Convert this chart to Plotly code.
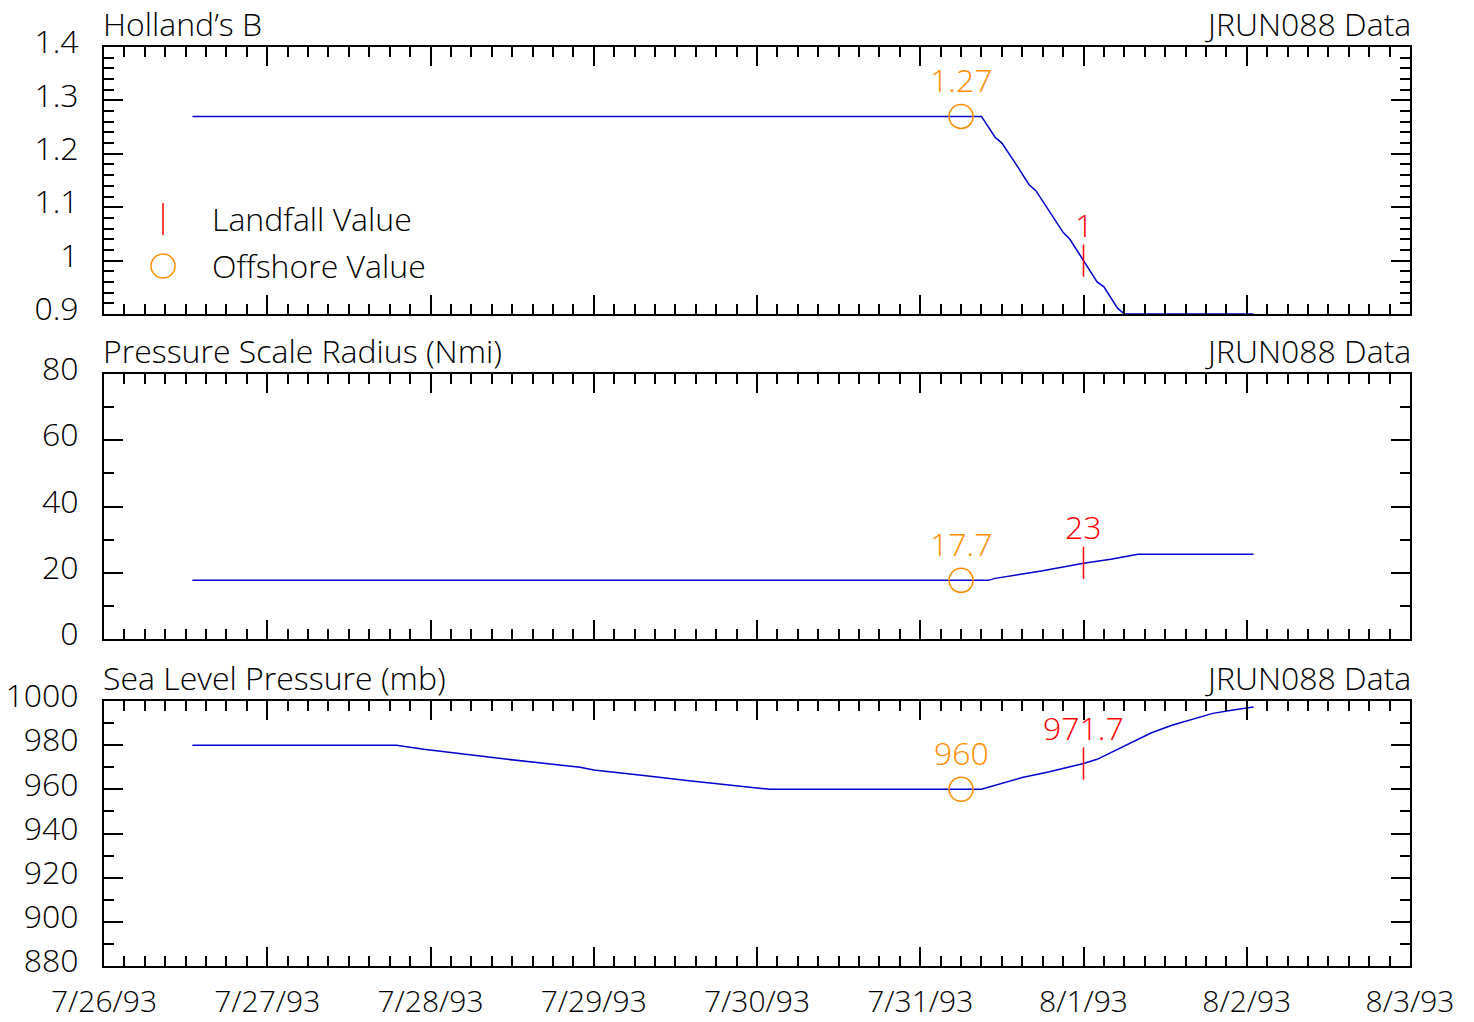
import plotly.graph_objects as go

# ---------------- data ----------------
b_time = ["1993-07-26 13:00", "1993-07-31 09:00", "1993-07-31 11:00", "1993-07-31 12:00",
          "1993-07-31 14:00", "1993-07-31 16:00", "1993-07-31 17:00", "1993-07-31 19:00",
          "1993-07-31 21:00", "1993-07-31 22:00", "1993-08-01 00:00", "1993-08-01 02:00",
          "1993-08-01 03:00", "1993-08-01 05:00", "1993-08-01 06:00", "1993-08-02 01:00"]
b_value = [1.27, 1.27, 1.231, 1.220, 1.182, 1.142, 1.131, 1.092, 1.053, 1.040, 1.000,
           0.960, 0.951, 0.911, 0.900, 0.900]

r_time = ["1993-07-26 13:00", "1993-07-31 10:00", "1993-07-31 11:00", "1993-07-31 18:00",
          "1993-08-01 00:00", "1993-08-01 04:00", "1993-08-01 08:00", "1993-08-02 01:00"]
r_value = [17.7, 17.7, 18.3, 20.6, 22.9, 24.1, 25.6, 25.6]

p_time = ["1993-07-26 13:00", "1993-07-27 19:00", "1993-07-27 23:00", "1993-07-28 03:00",
          "1993-07-28 07:00", "1993-07-28 11:00", "1993-07-28 14:00", "1993-07-28 18:00",
          "1993-07-28 22:00", "1993-07-29 00:00", "1993-07-29 04:00", "1993-07-29 08:00",
          "1993-07-29 14:00", "1993-07-29 19:00", "1993-07-29 23:00", "1993-07-30 02:00",
          "1993-07-31 09:00", "1993-07-31 15:00", "1993-07-31 19:00", "1993-07-31 22:00",
          "1993-08-01 00:00", "1993-08-01 02:00", "1993-08-01 08:00", "1993-08-01 10:00",
          "1993-08-01 13:00", "1993-08-01 19:00", "1993-08-01 22:00", "1993-08-02 01:00"]
p_value = [980, 980, 978.1, 976.8, 975.2, 973.7, 972.7, 971.3, 970.0, 968.8, 967.5, 966.0,
           963.9, 962.3, 960.9, 960.0, 960.0, 965.4, 968.0, 970.2, 971.7, 973.6, 982.8,
           985.6, 989.0, 994.4, 995.9, 997.3]

offshore_time = "1993-07-31 06:00"
offshore_values = [1.27, 17.7, 960]
offshore_labels = ["1.27", "17.7", "960"]
landfall_time = "1993-08-01 00:00"
landfall_values = [1.0, 23, 971.7]
landfall_labels = ["1", "23", "971.7"]

panel_titles = ["Holland’s B", "Pressure Scale Radius (Nmi)", "Sea Level Pressure (mb)"]
source_label = "JRUN088 Data"
y_ranges = [[0.9, 1.4], [0, 80], [880, 1000]]
y_dticks = [0.1, 20, 20]
y_minor = [0.02, 10, 10]
x_range = ["1993-07-26", "1993-08-03"]

# ---------------- style ----------------
FONT = "Open Sans"
FW = 300
FS = 32
LINE_BLUE = "#0000CD"
ORANGE = "#FF8C00"
RED = "#FF0000"

W, H = 1474, 1022
mt, mb, ml, mr = 47, 56, 104, 64
ph = H - mt - mb
def dom(top_px, bot_px):
    return [(H - mb - bot_px) / ph, (H - mb - top_px) / ph]
domains = [dom(47, 314), dom(374, 639), dom(701, 966)]

def f(color="black", size=FS):
    return dict(family=FONT, size=size, color=color, weight=FW)

fig = go.Figure()
series = [(b_time, b_value), (r_time, r_value), (p_time, p_value)]
for i, (t, v) in enumerate(series):
    ax = "" if i == 0 else str(i + 1)
    fig.add_trace(go.Scatter(x=t, y=v, mode="lines", line=dict(color=LINE_BLUE, width=1.5),
                             xaxis="x" + ax, yaxis="y" + ax, showlegend=False))
    fig.add_trace(go.Scatter(x=[offshore_time], y=[offshore_values[i]], mode="markers",
                             marker=dict(symbol="circle-open", size=24, color=ORANGE,
                                         line=dict(color=ORANGE, width=1.5)),
                             xaxis="x" + ax, yaxis="y" + ax, showlegend=False))
    fig.add_trace(go.Scatter(x=[landfall_time], y=[landfall_values[i]], mode="markers",
                             marker=dict(symbol="line-ns-open", size=23, color=RED,
                                         line=dict(color=RED, width=1.5)),
                             xaxis="x" + ax, yaxis="y" + ax, showlegend=False))
    fig.add_annotation(x=offshore_time, y=offshore_values[i], text=offshore_labels[i],
                       xref="x" + ax, yref="y" + ax, showarrow=False, yshift=37,
                       font=f(ORANGE))
    fig.add_annotation(x=landfall_time, y=landfall_values[i], text=landfall_labels[i],
                       xref="x" + ax, yref="y" + ax, showarrow=False, yshift=36,
                       font=f(RED))
    # panel titles
    fig.add_annotation(x=0, y=1, xref="x" + ax + " domain", yref="y" + ax + " domain",
                       text=panel_titles[i], showarrow=False, xanchor="left", yanchor="bottom",
                       xshift=-3, yshift=0, font=f())
    fig.add_annotation(x=1, y=1, xref="x" + ax + " domain", yref="y" + ax + " domain",
                       text=source_label, showarrow=False, xanchor="right", yanchor="bottom",
                       xshift=3, yshift=0, font=f())

# legend (drawn in panel 1)
fig.add_shape(type="line", xref="x domain", yref="y domain", x0=0.0452, x1=0.0452,
              y0=0.296, y1=0.416, line=dict(color=RED, width=1.5))
fig.add_shape(type="circle", xref="x domain", yref="y domain", x0=0.0452 - 0.0092,
              x1=0.0452 + 0.0092, y0=0.1798 - 0.045, y1=0.1798 + 0.045,
              line=dict(color=ORANGE, width=1.5))
fig.add_annotation(x=0.0835, y=0.356, xref="x domain", yref="y domain", text="Landfall Value",
                   showarrow=False, xanchor="left", yanchor="middle", xshift=-3, font=f())
fig.add_annotation(x=0.0835, y=0.1798, xref="x domain", yref="y domain", text="Offshore Value",
                   showarrow=False, xanchor="left", yanchor="middle", xshift=-3, font=f())

layout = dict(width=W, height=H, margin=dict(l=ml, r=mr, t=mt, b=mb, autoexpand=False),
              paper_bgcolor="white", plot_bgcolor="white", showlegend=False,
              font=f())
for i in range(3):
    ax = "" if i == 0 else str(i + 1)
    layout["xaxis" + ax] = dict(
        type="date", range=x_range, domain=[0, 1], anchor="y" + ax, automargin=False,
        dtick=86400000, tick0="1993-07-26", tickformat="%-m/%-d/%y",
        ticks="inside", ticklen=19, tickwidth=1.5, tickcolor="black",
        showline=True, linewidth=2, linecolor="black", mirror="allticks",
        showgrid=False, zeroline=False, showticklabels=(i == 2),
        ticklabelstandoff=8,
        minor=dict(dtick=3 * 3600 * 1000, ticks="inside", ticklen=10, tickwidth=1.5,
                   tickcolor="black", showgrid=False),
        tickfont=f(size=30),
        matches=None if i == 0 else "x",
    )
    layout["yaxis" + ax] = dict(
        range=y_ranges[i], domain=domains[i], anchor="x" + ax, automargin=False,
        dtick=y_dticks[i], tick0=y_ranges[i][0],
        ticks="inside", ticklen=19, tickwidth=1.5, tickcolor="black",
        showline=True, linewidth=2, linecolor="black", mirror="allticks",
        showgrid=False, zeroline=False, ticklabelstandoff=17, ticklabelshift=-5,
        minor=dict(dtick=y_minor[i], ticks="inside", ticklen=10, tickwidth=1.5,
                   tickcolor="black", showgrid=False),
        tickfont=f(),
    )
fig.update_layout(**layout)
fig.write_html("out.html", config={"displayModeBar": False},
               post_script="document.body.style.margin='0';document.body.style.overflow='hidden';")
